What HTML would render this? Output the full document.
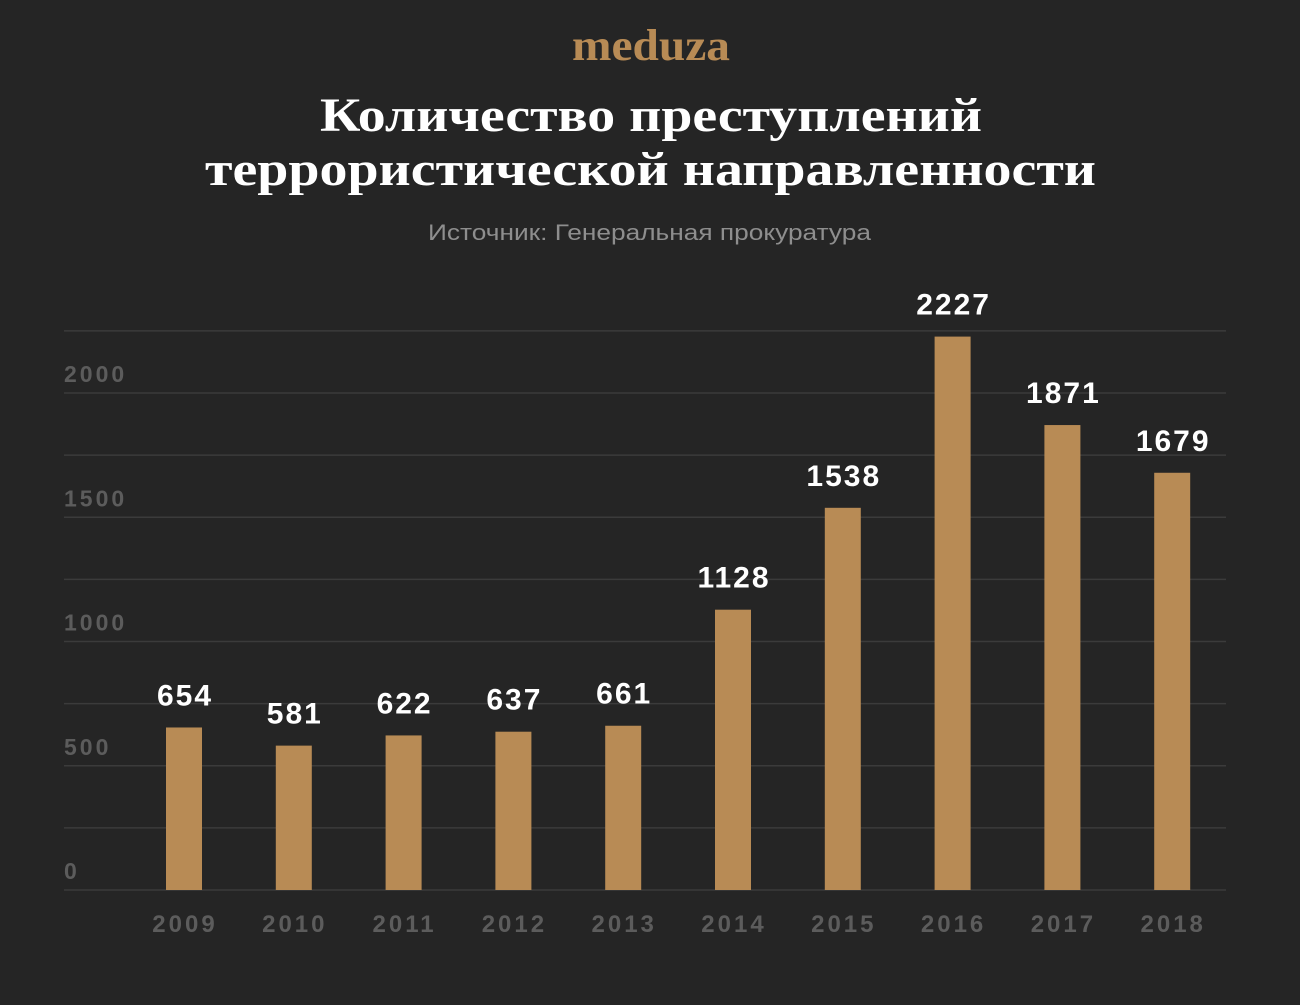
<!DOCTYPE html>
<html><head><meta charset="utf-8"><style>
body{margin:0;background:#252525;width:1300px;height:1000px;overflow:hidden;font-family:"Liberation Sans",sans-serif}
</style></head><body>
<svg width="1300" height="1000">
<rect width="1300" height="1000" fill="#252525"/>
<text x="572" y="60" textLength="158" lengthAdjust="spacingAndGlyphs" font-family="Liberation Serif,serif" font-weight="bold" font-size="44" fill="#b88b55">meduza</text>
<text x="320" y="131" textLength="662" lengthAdjust="spacingAndGlyphs" font-family="Liberation Serif,serif" font-weight="bold" font-size="48" fill="#fff">Количество преступлений</text>
<text x="205" y="185" textLength="891" lengthAdjust="spacingAndGlyphs" font-family="Liberation Serif,serif" font-weight="bold" font-size="48" fill="#fff">террористической направленности</text>
<text x="428" y="240" textLength="443" lengthAdjust="spacingAndGlyphs" font-size="22" fill="#8e8e8e">Источник: Генеральная прокуратура</text>
<g id="grid"></g><g id="bars"></g>
</svg>
<script>
const years=["2009","2010","2011","2012","2013","2014","2015","2016","2017","2018"];
const values=[654,581,622,637,661,1128,1538,2227,1871,1679];
const gridTicks=[0,250,500,750,1000,1250,1500,1750,2000,2250];
const labelTicks=[0,500,1000,1500,2000];
const NS="http://www.w3.org/2000/svg";
const y=v=>890-v*0.2485;
const x=i=>184+i*109.8;
function mk(t,a,p,txt){const e=document.createElementNS(NS,t);for(const k in a)e.setAttribute(k,a[k]);if(txt!==undefined)e.textContent=txt;p.appendChild(e);return e;}
const g=document.getElementById('grid'),b=document.getElementById('bars');
gridTicks.forEach(v=>{const l=mk('line',{x1:64,x2:1226,y1:y(v),y2:y(v),stroke:'#3b3b3b','stroke-width':1.5},g);

});
labelTicks.forEach(v=>{const t=mk('text',{x:64,y:y(v)-11,'font-size':23,'font-weight':'bold','letter-spacing':3,fill:'#5c5c5c'},g,String(v));

});
values.forEach((v,i)=>{
const r=mk('rect',{x:x(i)-18,y:y(v),width:36,height:890-y(v),fill:'#b88b55'},b);


const t=mk('text',{x:x(i)+1,y:y(v)-22,'text-anchor':'middle','font-size':30,'font-weight':'bold','letter-spacing':2,fill:'#fff'},b,String(v));


const xl=mk('text',{x:x(i)+1,y:932,'text-anchor':'middle','font-size':24,'font-weight':'bold','letter-spacing':3,fill:'#5c5c5c'},b,years[i]);


});
</script>
</body></html>
